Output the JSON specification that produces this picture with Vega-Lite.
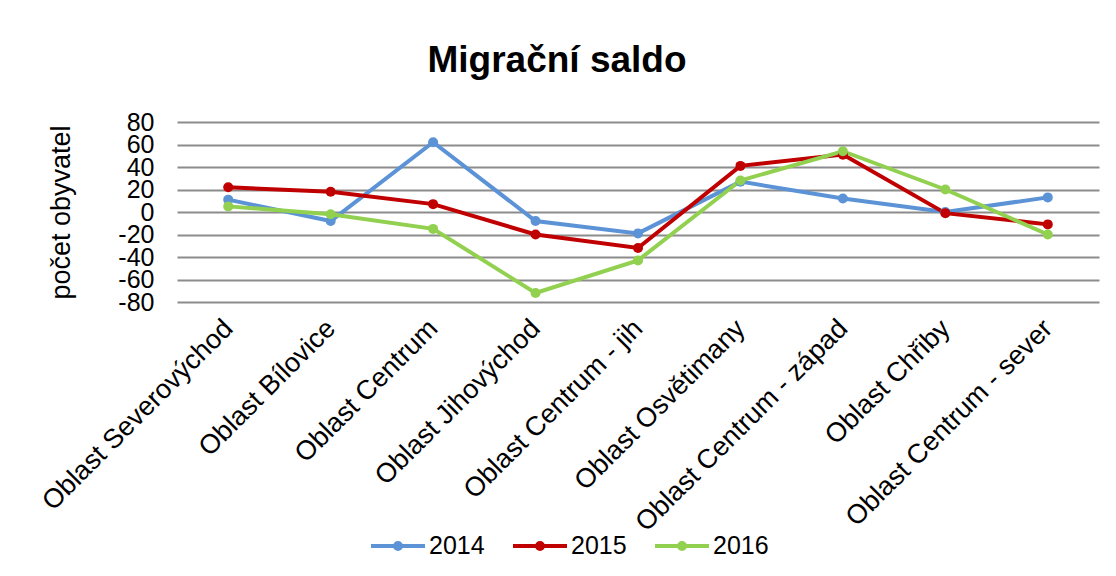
{
  "$schema": "https://vega.github.io/schema/vega-lite/v6.json",
  "autosize": "none",
  "width": 922,
  "height": 180,
  "padding": {"left": 177, "top": 122, "right": 17, "bottom": 274},
  "background": "white",
  "config": {
    "font": "Liberation Sans",
    "view": {"stroke": null}
  },
  "title": {
    "text": "Migrační saldo",
    "fontSize": 37,
    "fontWeight": "bold",
    "color": "#000000",
    "anchor": "middle",
    "frame": "group",
    "dx": -81,
    "baseline": "alphabetic",
    "offset": 1
  },
  "data": {
    "values": [
      {"oblast": "Oblast Severovýchod", "rok": "2014", "saldo": 11},
      {"oblast": "Oblast Bílovice", "rok": "2014", "saldo": -8},
      {"oblast": "Oblast Centrum", "rok": "2014", "saldo": 62},
      {"oblast": "Oblast Jihovýchod", "rok": "2014", "saldo": -8},
      {"oblast": "Oblast Centrum - jih", "rok": "2014", "saldo": -19},
      {"oblast": "Oblast Osvětimany", "rok": "2014", "saldo": 27},
      {"oblast": "Oblast Centrum - západ", "rok": "2014", "saldo": 12},
      {"oblast": "Oblast Chřiby", "rok": "2014", "saldo": 0},
      {"oblast": "Oblast Centrum - sever", "rok": "2014", "saldo": 13},
      {"oblast": "Oblast Severovýchod", "rok": "2015", "saldo": 22},
      {"oblast": "Oblast Bílovice", "rok": "2015", "saldo": 18},
      {"oblast": "Oblast Centrum", "rok": "2015", "saldo": 7},
      {"oblast": "Oblast Jihovýchod", "rok": "2015", "saldo": -20},
      {"oblast": "Oblast Centrum - jih", "rok": "2015", "saldo": -32},
      {"oblast": "Oblast Osvětimany", "rok": "2015", "saldo": 41},
      {"oblast": "Oblast Centrum - západ", "rok": "2015", "saldo": 51},
      {"oblast": "Oblast Chřiby", "rok": "2015", "saldo": -1},
      {"oblast": "Oblast Centrum - sever", "rok": "2015", "saldo": -11},
      {"oblast": "Oblast Severovýchod", "rok": "2016", "saldo": 5},
      {"oblast": "Oblast Bílovice", "rok": "2016", "saldo": -2},
      {"oblast": "Oblast Centrum", "rok": "2016", "saldo": -15},
      {"oblast": "Oblast Jihovýchod", "rok": "2016", "saldo": -72},
      {"oblast": "Oblast Centrum - jih", "rok": "2016", "saldo": -43},
      {"oblast": "Oblast Osvětimany", "rok": "2016", "saldo": 28},
      {"oblast": "Oblast Centrum - západ", "rok": "2016", "saldo": 54},
      {"oblast": "Oblast Chřiby", "rok": "2016", "saldo": 20},
      {"oblast": "Oblast Centrum - sever", "rok": "2016", "saldo": -20}
    ]
  },
  "encoding": {
    "x": {
      "field": "oblast",
      "type": "nominal",
      "sort": null,
      "scale": {"type": "point", "padding": 0.5},
      "axis": {
        "title": null,
        "domain": false,
        "ticks": false,
        "grid": false,
        "labelAngle": -45,
        "labelAlign": "right",
        "labelBaseline": "middle",
        "labelPadding": 22,
        "labelFontSize": 27,
        "labelColor": "#000000",
        "labelLimit": 400,
        "labelOverlap": false
      }
    },
    "y": {
      "field": "saldo",
      "type": "quantitative",
      "scale": {"domain": [-80, 80], "nice": false},
      "axis": {
        "title": "počet obyvatel",
        "titleFontSize": 27,
        "titleFontWeight": "normal",
        "titleColor": "#000000",
        "titleAngle": -90,
        "titleX": -116,
        "titleY": 90,
        "titleAlign": "center",
        "titleBaseline": "middle",
        "values": [-80, -60, -40, -20, 0, 20, 40, 60, 80],
        "labelExpr": "datum.value < 0 ? '-' + abs(datum.value) : '' + datum.value",
        "labelOverlap": false,
        "domain": false,
        "ticks": false,
        "labelPadding": 23,
        "labelFontSize": 25,
        "labelColor": "#000000",
        "gridColor": "#8c8c8c",
        "gridWidth": 2,
        "gridOpacity": 1
      }
    },
    "color": {
      "field": "rok",
      "type": "nominal",
      "scale": {"domain": ["2014", "2015", "2016"], "range": ["#5b93d6", "#c00000", "#92d050"]},
      "legend": {
        "title": null,
        "orient": "none",
        "direction": "horizontal",
        "legendX": 192,
        "legendY": 395,
        "padding": 0,
        "symbolType": "M-1,0L1,0M0.111,0A0.111,0.111,0,1,1,-0.111,0A0.111,0.111,0,1,1,0.111,0",
        "symbolSize": 2916,
        "symbolStrokeWidth": 4,
        "symbolOpacity": 1,
        "labelFontSize": 25,
        "labelColor": "#000000",
        "labelOffset": 2,
        "columnPadding": 20,
        "encode": {
          "symbols": {
            "update": {
              "stroke": {"scale": "color", "field": "value"},
              "fill": {"scale": "color", "field": "value"},
              "strokeWidth": {"value": 4},
              "opacity": {"value": 1}
            }
          }
        }
      }
    }
  },
  "layer": [
    {
      "mark": {"type": "line", "strokeWidth": 4}
    },
    {
      "mark": {"type": "point", "filled": true, "size": 100, "opacity": 1}
    }
  ]
}
